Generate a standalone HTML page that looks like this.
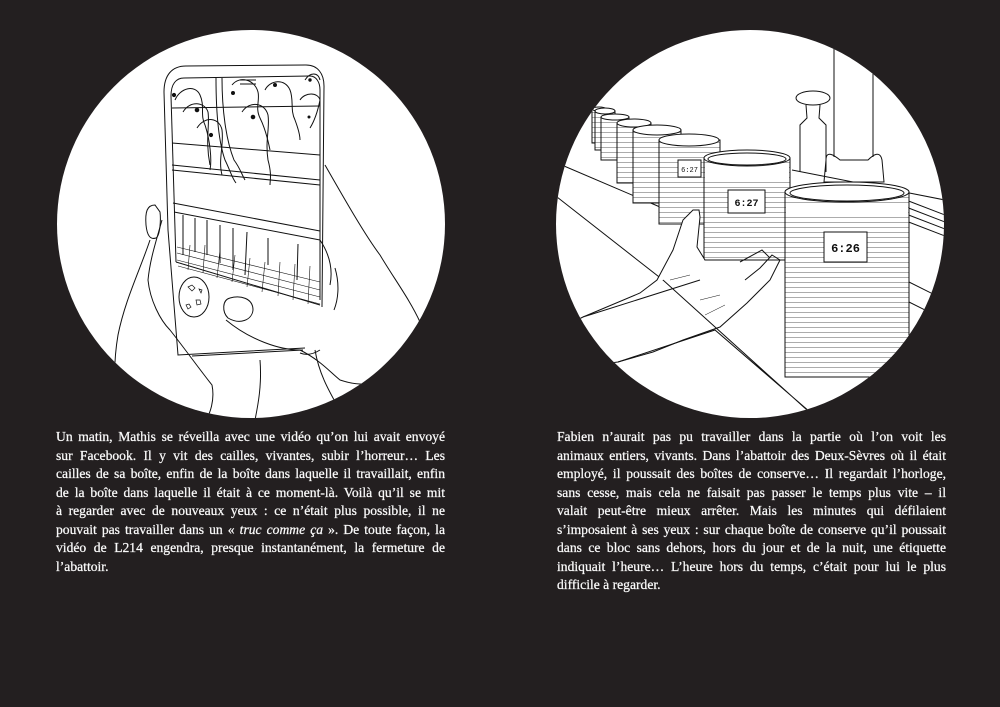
<!DOCTYPE html>
<html><head><meta charset="utf-8">
<style>
html,body{margin:0;padding:0;background:#231f20;}
body{width:1000px;height:707px;position:relative;overflow:hidden;}
svg{position:absolute;left:0;top:0;}
.txt{position:absolute;width:389px;font-family:"Liberation Serif",serif;font-size:13.6px;line-height:18.5px;color:#fafafa;-webkit-text-stroke:0.25px #fafafa;}
.txt div{text-align:justify;text-align-last:justify;white-space:normal;}
.txt div.l{text-align-last:left;}
</style></head><body>
<svg width="1000" height="707" viewBox="0 0 1000 707">
<defs>
<clipPath id="cl"><circle cx="251" cy="224" r="194"/></clipPath>
<clipPath id="cr"><circle cx="750" cy="224" r="194"/></clipPath>
<pattern id="st" width="10" height="5" patternUnits="userSpaceOnUse"><rect width="10" height="5" fill="#fff"/><line x1="0" y1="2.5" x2="10" y2="2.5" stroke="#888" stroke-width="0.7"/></pattern>
</defs>
<circle cx="251" cy="224" r="194" fill="#fff"/>
<circle cx="750" cy="224" r="194" fill="#fff"/>
<g clip-path="url(#cl)" fill="none" stroke="#111" stroke-width="1">
 <path d="M150 240 C140 270 125 300 118 335 C112 370 115 400 118 420"/>
 <path d="M162 220 C155 245 150 260 148 280 C150 300 160 320 170 330 C182 345 200 370 212 385 C215 400 210 415 205 420"/>
 <path d="M155 205 C147 205 145 212 146 225 C147 235 150 240 156 238 C160 236 161 220 160 212 Z"/>
 <path d="M230 298 C222 300 222 312 228 318 C240 325 252 320 253 310 C253 298 240 295 230 298 Z"/>
 <path d="M226 320 C250 340 280 350 300 350 C320 360 330 372 340 380 C355 385 365 385 378 382"/>
 <path d="M325 165 C345 200 365 235 380 255 C395 280 410 300 420 322"/>
 <path d="M315 350 C320 380 335 400 345 420"/>
 <path d="M260 360 C262 385 258 405 255 420"/>
 <path d="M320 240 C330 255 333 270 330 285 M335 268 C340 285 338 300 334 310"/>
 <path d="M300 353 C305 355 312 355 320 350"/>
 <path d="M164 92 C164 75 172 66 186 66 L306 65 C318 65 324 74 324 86 L322 307"/>
 <path d="M164 92 L168 230 L178 355 L305 348"/>
 <path d="M192 356 L303 350"/>
 <path d="M171 96 C171 84 176 78 184 78 L310 76 C316 76 320 82 320 90 L320 300"/>
 <path d="M171 96 L176 262"/>
 <path d="M172 108 L320 106 M172 143 L320 155 M172 165 L320 180 M172 170 L320 185"/>
 <path d="M173 203 L320 231 M174 212 L320 240"/>
 <path d="M216 78 C216 110 218 140 225 160 C230 170 232 178 236 183 M222 78 C222 110 226 140 234 160 C240 168 242 175 245 180"/>
 <path d="M240 80 L256 80 M240 84 L256 84"/>
 <g>
 <path d="M175 100 C180 88 195 84 200 95 C205 106 200 115 205 125 C210 140 212 160 210 170"/>
 <path d="M183 112 C190 100 205 102 208 112 C210 125 205 140 210 165"/>
 <path d="M197 128 C205 115 220 118 222 130 C224 145 218 160 222 175"/>
 <path d="M232 85 C240 75 255 80 258 92 C260 100 255 108 260 118 C265 128 268 140 270 150"/>
 <path d="M242 112 C250 100 265 103 268 115 C270 128 265 140 268 160 C272 175 270 180 270 185"/>
 <path d="M265 90 C270 80 285 78 290 90 C294 100 290 110 295 120 C298 128 300 135 300 140"/>
 <path d="M305 80 C310 72 318 72 320 80 M300 100 C305 92 318 92 320 100 C318 110 315 120 310 128"/>
 <circle cx="174" cy="95" r="1.6" fill="#111"/><circle cx="197" cy="110" r="1.8" fill="#111"/><circle cx="211" cy="135" r="1.6" fill="#111"/><circle cx="233" cy="93" r="1.5" fill="#111"/><circle cx="253" cy="117" r="1.8" fill="#111"/><circle cx="275" cy="85" r="1.5" fill="#111"/><circle cx="310" cy="80" r="1.2" fill="#111"/><circle cx="309" cy="117" r="1" fill="#111"/>
 </g>
 <path d="M183 215 L183 255 M195 218 L195 252 M207 220 L207 255 M220 225 L220 263 M233 228 L233 270 M247 232 L245 275 M268 238 L268 265 M298 244 L297 280"/>
 <g stroke-width="0.6">
 <path d="M177 247 L320 282 M177 253 L320 290 M177 260 L320 297 M178 266 L320 304"/>
 <path d="M190 245 L188 270 M205 245 L203 273 M220 250 L217 278 M235 255 L232 282 M250 258 L247 287 M265 262 L262 292 M280 262 L278 296 M295 264 L293 300 M310 266 L308 304"/>
 </g>
 <path d="M176 262 L320 305"/>
 <ellipse cx="194" cy="297" rx="15" ry="20"/>
 <path d="M188 287 l4 -2 l3 3 l-3 3 z M196 300 l4 0 l1 4 l-4 1 z M186 305 l3 -1 l2 3 l-3 2 z M199 289 l3 1 l-1 3 z" stroke-width="0.7"/>
</g>
<g clip-path="url(#cr)" fill="none" stroke="#111" stroke-width="1">
 <path d="M557 163 L660 207 M557 197 L663 280 L807 410 M583 317 L700 280 M618 362 L715 330 L810 412"/>
 <path d="M906 200 L945 215 M906 207 L945 222 M906 214 L945 229 M906 221 L945 236"/>
 <path d="M905 280 L945 300 M905 300 L945 320"/>
 <path d="M834 20 L834 157 M873 20 L873 157"/>
 <path d="M826 160 C826 150 834 155 840 160 L868 160 C873 155 880 150 882 160 L884 182 L824 182 Z"/>
 <ellipse cx="813" cy="98" rx="17" ry="7"/>
 <path d="M806 105 L807 118 L800 125 L800 172 M820 105 L819 118 L826 125 L826 172"/>
 <path d="M792 170 L945 200"/>
 <g fill="url(#st)">
 <path d="M592 109 L592 143 L606 143 L606 109 Z"/><ellipse cx="599" cy="109" rx="7" ry="2" fill="#fff"/>
 <path d="M595 111 L595 150 L615 150 L615 111 Z"/><ellipse cx="605" cy="111" rx="10" ry="3" fill="#fff"/>
 <path d="M601 117 L601 160 L629 160 L629 117 Z"/><ellipse cx="615" cy="117" rx="14" ry="3" fill="#fff"/>
 <path d="M617 123 L617 183 L651 183 L651 123 Z"/><ellipse cx="634" cy="123" rx="17" ry="4" fill="#fff"/>
 <path d="M633 130 L633 203 L681 203 L681 130 Z"/><ellipse cx="657" cy="130" rx="24" ry="5" fill="#fff"/>
 <path d="M659 140 L659 224 L720 224 L720 140 Z"/><ellipse cx="689" cy="140" rx="30" ry="6" fill="#fff"/>
 <path d="M704 158 L704 260 L790 260 L790 158 Z"/><ellipse cx="747" cy="158" rx="43" ry="8" fill="#fff"/>
 <path d="M785 192 L785 377 L909 377 L909 192 Z"/><ellipse cx="847" cy="192" rx="62" ry="10" fill="#fff"/>
 </g>
 <path d="M705 167 L705 182 L789 182 L789 167 Z" stroke="none" fill="#fff"/>
 <path d="M786 203 L786 214 L908 214 L908 203 Z" stroke="none" fill="#fff"/>
 <ellipse cx="747" cy="159" rx="39" ry="6"/><ellipse cx="847" cy="193" rx="57" ry="8"/>
 <rect x="678" y="160" width="23" height="17" fill="#fff"/>
 <rect x="728" y="190" width="37" height="23" fill="#fff"/>
 <rect x="824" y="232" width="43" height="30" fill="#fff"/>
 <path d="M557 330 L583 317 L640 293 L657 280 L673 250 L683 220 L693 210 L699 210 L700 217 L697 247 L705 260" fill="#fff"/>
 <path d="M557 370 L618 362 L653 352 L683 340 L720 327 L747 303 L770 280 L780 260 L772 255 L760 268 L745 280 M770 258 L762 250 L740 262" fill="none"/>
 <path d="M670 280 L690 275 M700 300 L720 295 M705 315 L725 305" stroke-width="0.5"/>
</g>
<text x="689.5" y="172" font-family="Liberation Mono,monospace" font-size="7" text-anchor="middle" fill="#111">6:27</text>
<text x="746.5" y="206" font-family="Liberation Mono,monospace" font-size="10" font-weight="bold" text-anchor="middle" fill="#111">6:27</text>
<text x="845.5" y="252" font-family="Liberation Mono,monospace" font-size="12" font-weight="bold" text-anchor="middle" fill="#111">6:26</text>
</svg>
<div class="txt" style="left:56px;top:428px;">
<div>Un matin, Mathis se réveilla avec une vidéo qu’on lui avait envoyé</div>
<div>sur Facebook. Il y vit des cailles, vivantes, subir l’horreur… Les</div>
<div>cailles de sa boîte, enfin de la boîte dans laquelle il travaillait, enfin</div>
<div>de la boîte dans laquelle il était à ce moment-là. Voilà qu’il se mit</div>
<div>à regarder avec de nouveaux yeux : ce n’était plus possible, il ne</div>
<div>pouvait pas travailler dans un « <i>truc comme ça</i> ». De toute façon, la</div>
<div>vidéo de L214 engendra, presque instantanément, la fermeture de</div>
<div class="l">l’abattoir.</div>
</div>
<div class="txt" style="left:557px;top:428px;">
<div>Fabien n’aurait pas pu travailler dans la partie où l’on voit les</div>
<div>animaux entiers, vivants. Dans l’abattoir des Deux-Sèvres où il était</div>
<div>employé, il poussait des boîtes de conserve… Il regardait l’horloge,</div>
<div>sans cesse, mais cela ne faisait pas passer le temps plus vite – il</div>
<div>valait peut-être mieux arrêter. Mais les minutes qui défilaient</div>
<div>s’imposaient à ses yeux : sur chaque boîte de conserve qu’il poussait</div>
<div>dans ce bloc sans dehors, hors du jour et de la nuit, une étiquette</div>
<div>indiquait l’heure… L’heure hors du temps, c’était pour lui le plus</div>
<div class="l">difficile à regarder.</div>
</div>
</body></html>
